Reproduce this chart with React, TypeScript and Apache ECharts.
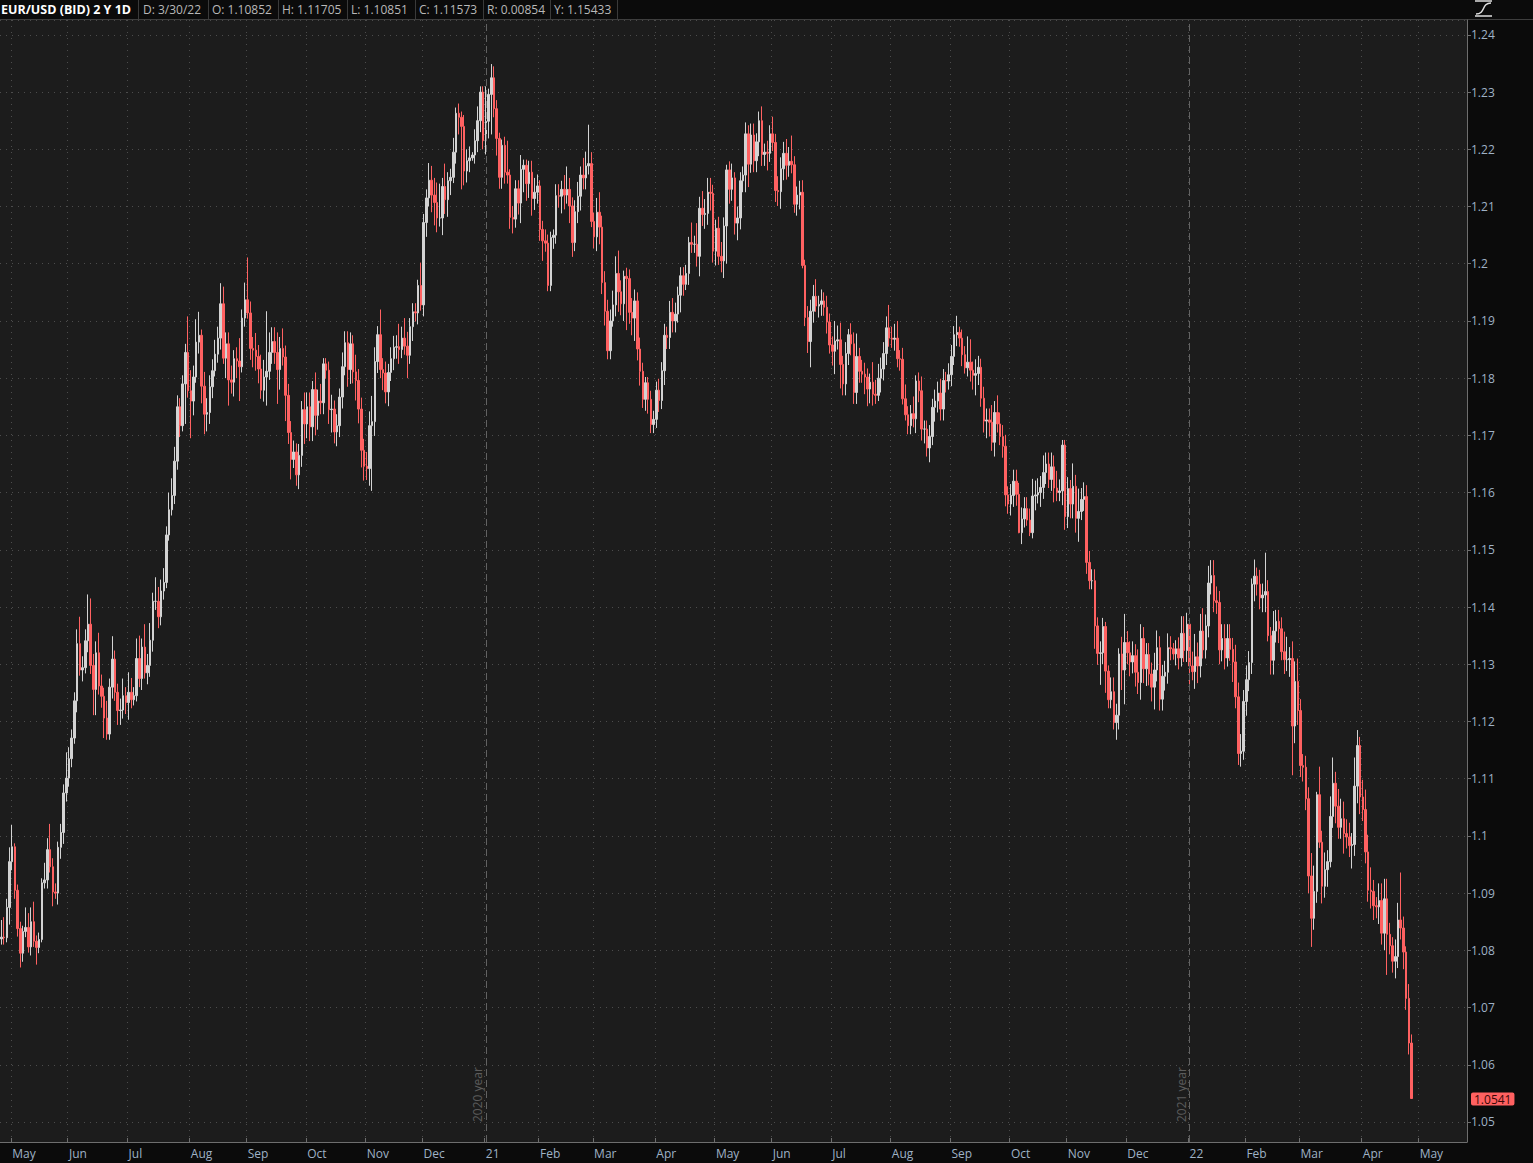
import React, { useEffect, useRef } from "react";
import * as echarts from "echarts";

// ---- DATA (daily EUR/USD bid) ----
const FIRST_OPEN = 1.082;
const START_DATE = "2020-04-27";
const CATEGORY_COUNT = 542; // trading days shown on the axis (incl. empty future days)
const HOLIDAYS = ["2021-01-01"]; // no bar on this day

const close2020 = [
  1.0823, 1.0822, 1.0875, 1.0955, 1.0981, 1.0905, 1.0838, 1.0795, 1.0833, 1.084,
  1.0806, 1.085, 1.0816, 1.0805, 1.0819, 1.0918, 1.0923, 1.0976, 1.0946, 1.0902,
  1.09, 1.098, 1.1006, 1.1075, 1.1101, 1.1135, 1.1171, 1.1236, 1.1336, 1.129,
  1.1294, 1.1341, 1.137, 1.1298, 1.1256, 1.132, 1.1262, 1.1244, 1.1206, 1.1178,
  1.126, 1.1309, 1.1251, 1.1219, 1.122, 1.1245, 1.1233, 1.1251, 1.1238, 1.1245,
  1.131, 1.1275, 1.133, 1.1285, 1.1298, 1.1342, 1.141, 1.141, 1.1383, 1.1428,
  1.1443, 1.1526, 1.157, 1.1595, 1.1655, 1.175, 1.1717, 1.179, 1.1845, 1.1778,
  1.176, 1.1802, 1.1863, 1.1875, 1.1786, 1.1737, 1.174, 1.1785, 1.1813, 1.1842,
  1.187, 1.193, 1.1835, 1.186, 1.1797, 1.1793, 1.1834, 1.183, 1.182, 1.1905,
  1.1937, 1.1914, 1.1852, 1.1849, 1.1838, 1.1816, 1.1779, 1.1802, 1.1812, 1.1845,
  1.1864, 1.1845, 1.1815, 1.1852, 1.1837, 1.177, 1.1705, 1.1658, 1.1671, 1.1631,
  1.1665, 1.1745, 1.172, 1.175, 1.1715, 1.178, 1.1735, 1.176, 1.1757, 1.1825,
  1.1814, 1.1745, 1.1746, 1.1706, 1.1717, 1.1767, 1.182, 1.1862, 1.1815, 1.186,
  1.1811, 1.1796, 1.1746, 1.1674, 1.1646, 1.1642, 1.1717, 1.1724, 1.1829, 1.1876,
  1.1815, 1.1809, 1.1776, 1.181, 1.1834, 1.1854, 1.1855, 1.185, 1.187, 1.1856,
  1.184, 1.189, 1.1916, 1.1914, 1.1962, 1.1928, 1.2072, 1.2115, 1.2146, 1.212,
  1.2107, 1.208, 1.208, 1.2135, 1.2112, 1.2145, 1.2151, 1.2195, 1.2263, 1.2256,
  1.224, 1.2162, 1.218, 1.2185, 1.219, 1.2215, 1.225, 1.23, 1.2215,
];
const close2021 = [
  1.2249, 1.2296, 1.2325, 1.2271, 1.2219, 1.2151, 1.2207, 1.216, 1.2155, 1.2081,
  1.2078, 1.2131, 1.2106, 1.2165, 1.2172, 1.214, 1.216, 1.2114, 1.2125, 1.2136,
  1.206, 1.204, 1.2036, 1.1962, 1.2046, 1.205, 1.2119, 1.2118, 1.213, 1.212,
  1.213, 1.2101, 1.2037, 1.2091, 1.2118, 1.2155, 1.215, 1.2171, 1.2175, 1.2074,
  1.2047, 1.209, 1.2064, 1.1967, 1.1917, 1.1848, 1.19, 1.1928, 1.1983, 1.1951,
  1.193, 1.1978, 1.1974, 1.1915, 1.1905, 1.1935, 1.1851, 1.1812, 1.1763, 1.1792,
  1.1763, 1.1719, 1.1728, 1.1779, 1.1761, 1.1813, 1.1875, 1.1871, 1.1915, 1.19,
  1.1912, 1.1945, 1.1979, 1.1964, 1.1983, 1.2037, 1.2034, 1.2034, 1.2013, 1.2097,
  1.2086, 1.2088, 1.2125, 1.2123, 1.2022, 1.2062, 1.2013, 1.2005, 1.2066, 1.2164,
  1.213, 1.215, 1.2071, 1.208, 1.2145, 1.2155, 1.2227, 1.2174, 1.2225, 1.218,
  1.2213, 1.225, 1.2191, 1.2195, 1.2193, 1.2227, 1.2212, 1.2128, 1.2126, 1.2166,
  1.2193, 1.2172, 1.2179, 1.2173, 1.2104, 1.212, 1.2125, 1.1997, 1.1906, 1.1864,
  1.1917, 1.1943, 1.1926, 1.1929, 1.1935, 1.1924, 1.1898, 1.1858, 1.1847, 1.1865,
  1.1867, 1.1824, 1.179, 1.1843, 1.1876, 1.186, 1.1775, 1.1838, 1.1812, 1.1807,
  1.1802, 1.1781, 1.1793, 1.1772, 1.177, 1.18, 1.1816, 1.1843, 1.1888, 1.187,
  1.1868, 1.187, 1.1834, 1.1833, 1.1764, 1.1736, 1.1717, 1.1738, 1.1729, 1.1795,
  1.1778, 1.1711, 1.1711, 1.1678, 1.1698, 1.1749, 1.176, 1.1774, 1.1746, 1.1796,
  1.1795, 1.1806, 1.1838, 1.1876, 1.188, 1.187, 1.1841, 1.1818, 1.1828, 1.1814,
  1.1805, 1.1808, 1.1819, 1.1765, 1.1725, 1.1727, 1.1723, 1.1688, 1.174, 1.172,
  1.1698, 1.1681, 1.1596, 1.158, 1.1595, 1.162, 1.1597, 1.153, 1.1554, 1.1572,
  1.1552, 1.153, 1.1594, 1.1596, 1.16, 1.1609, 1.1635, 1.165, 1.1623, 1.1645,
  1.1608, 1.16, 1.1603, 1.1683, 1.1558, 1.1607, 1.158, 1.1611, 1.1555, 1.1567,
  1.1588, 1.1593, 1.1478, 1.1446, 1.1446, 1.1367, 1.1319, 1.132, 1.1366, 1.1288,
  1.1238, 1.1252, 1.1198, 1.1211, 1.1318, 1.129, 1.1338, 1.132, 1.1304, 1.1315,
  1.1286, 1.1268, 1.1345, 1.1292, 1.1317, 1.1283, 1.126, 1.129, 1.1329, 1.1239,
  1.1279, 1.1286, 1.1329, 1.1327, 1.1318, 1.1327, 1.1311, 1.1354, 1.1324, 1.137,
];
const close2022 = [
  1.1297, 1.1287, 1.1313, 1.1297, 1.1358, 1.1325, 1.1367, 1.1442, 1.1455, 1.1411,
  1.1408, 1.1325, 1.1345, 1.1311, 1.1345, 1.1326, 1.1304, 1.1243, 1.1144, 1.1148,
  1.1235, 1.1273, 1.1303, 1.144, 1.1454, 1.144, 1.1416, 1.1421, 1.1427, 1.135,
  1.1307, 1.1358, 1.1375, 1.1362, 1.1322, 1.1308, 1.1308, 1.131, 1.1192, 1.127,
  1.1219, 1.1123, 1.112, 1.1065, 1.093, 1.0856, 1.0903, 1.1072, 1.0989, 1.0912,
  1.0941, 1.0955, 1.1034, 1.1092, 1.1052, 1.1015, 1.103, 1.1004, 1.0998, 1.0983,
  1.0985, 1.1087, 1.1158, 1.1068, 1.1046, 1.0972, 1.0905, 1.0903, 1.0878, 1.0876,
  1.0887, 1.083, 1.089, 1.0828, 1.0808, 1.0781, 1.0789, 1.0853, 1.0839, 1.0797,
  1.0716, 1.0638, 1.0541,
];

// upper / lower wick beyond the candle body, in pips
const wickUp2020 = [
  30, 35, 15, 25, 38, 6, 10, 12, 10, 35, 25, 25, 35, 10, 12, 8, 30, 20, 45, 15,
  15, 10, 15, 15, 45, 20, 15, 15, 25, 47, 20, 20, 52, 45, 20, 20, 35, 20, 15, 30,
  15, 40, 15, 15, 20, 30, 15, 35, 25, 15, 35, 40, 15, 40, 20, 30, 15, 42, 25, 20,
  25, 15, 30, 30, 25, 20, 15, 15, 15, 63, 36, 20, 40, 41, 10, 25, 25, 20, 20, 25,
  20, 36, 30, 20, 20, 25, 15, 20, 40, 15, 30, 74, 20, 20, 30, 20, 25, 30, 105, 35,
  25, 25, 35, 20, 35, 20, 20, 20, 20, 15, 20, 15, 30, 25, 25, 15, 30, 20, 30, 10,
  10, 15, 25, 15, 20, 15, 25, 20, 20, 20, 15, 30, 20, 20, 20, 25, 25, 45, 25, 15,
  44, 20, 20, 15, 20, 20, 20, 40, 20, 35, 25, 15, 15, 15, 10, 40, 15, 15, 30, 25,
  30, 35, 60, 15, 40, 15, 15, 25, 10, 17, 10, 20, 20, 20, 5, 20, 25, 10, 10,
];
const wickDown2020 = [
  10, 12, 8, 30, 15, 15, 14, 25, 15, 10, 10, 15, 10, 30, 10, 5, 10, 15, 10, 25,
  10, 20, 20, 20, 15, 15, 15, 10, 20, 10, 20, 10, 20, 15, 45, 45, 15, 20, 35, 10,
  10, 20, 15, 25, 25, 15, 20, 30, 15, 10, 10, 15, 20, 10, 20, 20, 20, 15, 20, 15,
  15, 10, 10, 10, 15, 15, 20, 10, 70, 12, 65, 25, 10, 20, 30, 35, 30, 20, 20, 10,
  15, 20, 10, 35, 45, 20, 25, 30, 60, 10, 15, 10, 20, 30, 25, 25, 15, 20, 50, 15,
  20, 20, 60, 35, 15, 45, 20, 35, 15, 19, 25, 20, 35, 25, 25, 25, 35, 25, 20, 20,
  15, 25, 40, 20, 25, 20, 20, 15, 30, 25, 20, 35, 25, 30, 25, 20, 30, 114, 25, 20,
  15, 30, 20, 25, 15, 20, 20, 25, 15, 15, 40, 15, 25, 15, 20, 10, 20, 25, 15, 30,
  40, 25, 15, 30, 25, 30, 25, 10, 20, 30, 110, 25, 20, 20, 5, 15, 20, 20, 15,
];
const wickUp2021 = [
  61, 10, 24, 20, 15, 10, 10, 15, 55, 10, 20, 15, 15, 25, 10, 10, 20, 20, 25, 20,
  10, 15, 20, 15, 10, 10, 20, 20, 15, 25, 40, 20, 15, 20, 25, 15, 30, 25, 68, 20,
  15, 25, 35, 20, 20, 20, 20, 25, 30, 40, 20, 10, 15, 16, 25, 20, 15, 20, 15, 10,
  10, 15, 15, 15, 20, 15, 20, 15, 20, 25, 20, 15, 15, 15, 15, 10, 35, 15, 37, 20,
  30, 25, 25, 25, 15, 15, 20, 25, 15, 9, 15, 25, 10, 20, 15, 15, 20, 15, 20, 20,
  15, 16, 25, 15, 20, 15, 30, 15, 25, 20, 20, 25, 25, 45, 15, 15, 20, 21, 10, 20,
  20, 20, 30, 15, 20, 15, 20, 15, 15, 35, 25, 30, 15, 20, 10, 20, 20, 40, 15, 20,
  20, 15, 15, 35, 25, 25, 20, 20, 20, 40, 20, 25, 30, 15, 20, 25, 15, 15, 30, 10,
  15, 25, 15, 15, 20, 15, 20, 20, 25, 20, 15, 20, 20, 15, 29, 10, 15, 15, 45, 40,
  15, 25, 20, 15, 20, 20, 20, 30, 20, 30, 20, 20, 20, 15, 20, 20, 20, 20, 20, 20,
  20, 20, 30, 25, 25, 20, 30, 20, 20, 25, 20, 30, 20, 9, 9, 20, 15, 40, 20, 40,
  20, 25, 20, 20, 20, 20, 15, 20, 15, 8, 10, 25, 25, 20, 10, 30, 50, 20, 20, 25,
  20, 40, 25, 20, 20, 20, 20, 30, 30, 20, 20, 20, 25, 20, 10, 15, 20, 30, 30, 20,
];
const wickDown2021 = [
  24, 30, 70, 15, 30, 20, 20, 20, 15, 20, 25, 15, 20, 35, 40, 30, 25, 30, 20, 20,
  20, 35, 15, 10, 10, 20, 15, 20, 30, 25, 15, 30, 25, 15, 20, 25, 20, 20, 15, 10,
  20, 25, 30, 20, 25, 15, 15, 10, 20, 35, 20, 30, 90, 20, 30, 40, 20, 25, 15, 20,
  25, 15, 15, 15, 20, 15, 25, 20, 20, 20, 20, 15, 30, 20, 10, 20, 15, 15, 18, 35,
  20, 25, 20, 30, 20, 25, 15, 20, 30, 66, 25, 20, 20, 30, 20, 20, 30, 40, 15, 20,
  20, 25, 20, 20, 30, 15, 15, 20, 25, 30, 20, 25, 20, 15, 15, 20, 25, 5, 15, 20,
  45, 20, 10, 20, 20, 15, 20, 15, 25, 40, 15, 42, 20, 20, 20, 20, 20, 20, 20, 15,
  30, 30, 25, 20, 15, 10, 25, 20, 20, 15, 15, 20, 15, 20, 10, 10, 15, 15, 15, 25,
  20, 20, 25, 15, 25, 15, 25, 20, 20, 20, 20, 15, 20, 15, 20, 15, 20, 10, 15, 20,
  25, 35, 20, 15, 20, 30, 25, 15, 25, 15, 15, 20, 20, 17, 20, 20, 20, 1, 20, 15,
  10, 6, 10, 25, 15, 25, 20, 20, 15, 20, 25, 15, 15, 25, 23, 20, 25, 25, 25, 41,
  15, 20, 20, 15, 15, 40, 20, 55, 20, 38, 15, 15, 12, 30, 25, 35, 60, 20, 25, 20,
  25, 20, 30, 25, 30, 20, 25, 39, 20, 20, 20, 25, 20, 20, 10, 20, 20, 15, 20, 20,
];
const wickUp2022 = [
  10, 25, 40, 25, 30, 40, 20, 30, 27, 27, 25, 20, 25, 25, 25, 25, 20, 30, 25, 30,
  20, 25, 20, 10, 29, 15, 25, 20, 68, 20, 15, 35, 20, 20, 20, 35, 40, 20, 30, 35,
  40, 20, 20, 20, 20, 40, 45, 5, 49, 20, 30, 20, 35, 45, 20, 30, 35, 30, 25, 25,
  20, 50, 27, 15, 30, 35, 30, 40, 20, 15, 30, 30, 35, 35, 20, 15, 30, 30, 83, 20,
  10, 25, 15,
];
const wickDown2022 = [
  35, 15, 30, 30, 20, 15, 15, 20, 20, 20, 20, 25, 20, 20, 15, 20, 35, 20, 20, 23,
  15, 25, 20, 20, 30, 20, 20, 25, 30, 10, 25, 25, 20, 25, 15, 25, 20, 30, 86, 30,
  25, 20, 25, 20, 30, 50, 20, 20, 10, 30, 20, 30, 10, 20, 30, 20, 20, 35, 20, 20,
  40, 20, 30, 30, 20, 20, 20, 30, 25, 20, 30, 20, 30, 71, 15, 20, 30, 20, 20, 30,
  20, 20, 0,
];

const LAST_PRICE = 1.0541;
const YEAR_LINES = [
  { date: "2021-01-04", text: "2020 year" },
  { date: "2022-01-03", text: "2021 year" },
];
const MONTHS = ["Jan", "Feb", "Mar", "Apr", "May", "Jun", "Jul", "Aug", "Sep", "Oct", "Nov", "Dec"];
const HEADER_TITLE = "EUR/USD (BID) 2 Y 1D";
const HEADER_FIELDS = ["D: 3/30/22", "O: 1.10852", "H: 1.11705", "L: 1.10851", "C: 1.11573", "R: 0.00854", "Y: 1.15433"];
const HEADER_FIELD_X = [143, 212, 282, 351, 419, 487, 554];
const HEADER_SEP_X = [138, 208, 278, 347, 415, 483, 550, 617];

// ---- build ----
const closes = [...close2020, ...close2021, ...close2022];
const wUp = [...wickUp2020, ...wickUp2021, ...wickUp2022];
const wDn = [...wickDown2020, ...wickDown2021, ...wickDown2022];

const dates: string[] = [];
{
  const [y, m, d] = START_DATE.split("-").map(Number);
  let t = Date.UTC(y, m - 1, d);
  while (dates.length < CATEGORY_COUNT) {
    const dt = new Date(t);
    const wd = dt.getUTCDay();
    const iso = dt.toISOString().slice(0, 10);
    if (wd !== 0 && wd !== 6 && !HOLIDAYS.includes(iso)) dates.push(iso);
    t += 86400000;
  }
}
const monthStart = new Set<number>();
for (let i = 1; i < dates.length; i++) {
  if (dates[i].slice(5, 7) !== dates[i - 1].slice(5, 7)) monthStart.add(i);
}

const ohlc = closes.map((c, i) => {
  const o = i === 0 ? FIRST_OPEN : closes[i - 1];
  const hi = Math.max(o, c) + wUp[i] / 10000;
  const lo = Math.min(o, c) - wDn[i] / 10000;
  return [o, c, +lo.toFixed(5), +hi.toFixed(5)];
});

const UP = "#d3d3d3";
const DOWN = "#ff6161";
const AXIS_TEXT = "#9fb2c6";
const FONT = "'Open Sans', 'Noto Sans', sans-serif";

const isMonthStart = (idx: number) => monthStart.has(idx);

export default function App() {
  const ref = useRef<HTMLDivElement>(null);
  useEffect(() => {
    document.body.style.margin = "0";
    document.body.style.background = "#0b0b0b";
    const chart = echarts.init(ref.current!, null, { renderer: "svg" });

    const graphics: any[] = [
      { type: "line", shape: { x1: 0, y1: 19.5, x2: 1533, y2: 19.5 }, style: { stroke: "#3e3e3e", lineWidth: 1 }, silent: true },
      {
        type: "text", x: 1, y: 9,
        style: { text: HEADER_TITLE, fill: "#ffffff", font: `bold 12.5px ${FONT}`, textVerticalAlign: "middle" },
        silent: true,
      },
      ...HEADER_SEP_X.map((x) => ({
        type: "line", shape: { x1: x + 0.5, y1: 0, x2: x + 0.5, y2: 19 }, style: { stroke: "#3a3a3a", lineWidth: 1 }, silent: true,
      })),
      ...HEADER_FIELDS.map((t, i) => ({
        type: "text", x: HEADER_FIELD_X[i], y: 9,
        style: { text: t, fill: "#b8b8b8", font: `12px ${FONT}`, textVerticalAlign: "middle" },
        silent: true,
      })),
      // top-right icon
      { type: "line", shape: { x1: 1475, y1: 1, x2: 1492, y2: 1 }, style: { stroke: "#e0e0e0", lineWidth: 1.5 }, silent: true },
      { type: "line", shape: { x1: 1475, y1: 16, x2: 1492, y2: 16 }, style: { stroke: "#e0e0e0", lineWidth: 1.5 }, silent: true },
      {
        type: "bezierCurve",
        shape: { x1: 1476, y1: 14, cpx1: 1486, cpy1: 14, cpx2: 1481, cpy2: 3, x2: 1491, y2: 3 },
        style: { stroke: "#e0e0e0", lineWidth: 1.5, fill: "none" },
        silent: true,
      },
    ];

    const markData: any[] = YEAR_LINES.map((yl) => ({
      xAxis: yl.date,
      lineStyle: { color: "#626262", type: [7, 4], width: 1 },
      label: {
        show: true, position: "insideStartTop", formatter: yl.text,
        color: "#5c5c5c", fontSize: 12, fontFamily: FONT, distance: [20, 2],
      },
    }));

    chart.setOption({
      animation: false,
      backgroundColor: "#0b0b0b",
      textStyle: { fontFamily: FONT },
      graphic: graphics,
      grid: {
        left: 0, right: 66, top: 20, bottom: 21,
        show: true, backgroundColor: "#1c1c1c", borderWidth: 0,
      },
      xAxis: {
        type: "category",
        data: dates,
        boundaryGap: true,
        axisLine: { show: true, lineStyle: { color: "#6e6e6e" } },
        axisTick: { show: true, inside: true, length: 4, interval: isMonthStart, lineStyle: { color: "#6e6e6e" } },
        axisLabel: {
          interval: isMonthStart,
          align: "left",
          margin: 5,
          color: AXIS_TEXT,
          fontSize: 12,
          fontFamily: FONT,
          formatter: (v: string) => {
            const m = Number(v.slice(5, 7));
            return m === 1 ? v.slice(2, 4) : MONTHS[m - 1];
          },
        },
        splitLine: { show: true, interval: isMonthStart, lineStyle: { color: "#4c4c4c", type: [1, 5], width: 1 } },
      },
      yAxis: {
        type: "value",
        position: "right",
        min: 1.0465,
        max: 1.2426,
        splitNumber: 20,
        scale: true,
        axisLine: { show: true, lineStyle: { color: "#6e6e6e" } },
        axisTick: { show: true, length: 4, lineStyle: { color: "#6e6e6e" } },
        axisLabel: {
          color: AXIS_TEXT, fontSize: 12, fontFamily: FONT, margin: 4,
          showMinLabel: false, showMaxLabel: false,
          formatter: (v: number) => String(Math.round(v * 100) / 100),
        },
        splitLine: { show: true, lineStyle: { color: "#4c4c4c", type: [1, 5], width: 1 } },
      },
      series: [
        {
          type: "candlestick",
          data: ohlc,
          barWidth: 2,
          silent: true,
          itemStyle: {
            color: UP, color0: DOWN, borderColor: UP, borderColor0: DOWN, borderWidth: 1,
          },
          markLine: { silent: true, symbol: "none", animation: false, data: markData },
        },
      ],
    });

    // last-price tag on the price axis, placed via the axis scale
    const yPix = chart.convertToPixel({ yAxisIndex: 0 }, LAST_PRICE) as number;
    chart.setOption(
      {
        graphic: [
          ...graphics,
          {
            type: "text",
            x: 1471,
            y: Math.round(yPix),
            silent: true,
            z: 100,
            style: {
              text: LAST_PRICE.toFixed(4),
              fill: "#3a0808",
              font: `12px ${FONT}`,
              textVerticalAlign: "middle",
              backgroundColor: DOWN,
              padding: [1, 3, 0, 3],
              borderRadius: 2,
            },
          },
        ],
      },
      { replaceMerge: ["graphic"] }
    );
    return () => chart.dispose();
  }, []);
  return <div ref={ref} style={{ width: 1533, height: 1163 }} />;
}
